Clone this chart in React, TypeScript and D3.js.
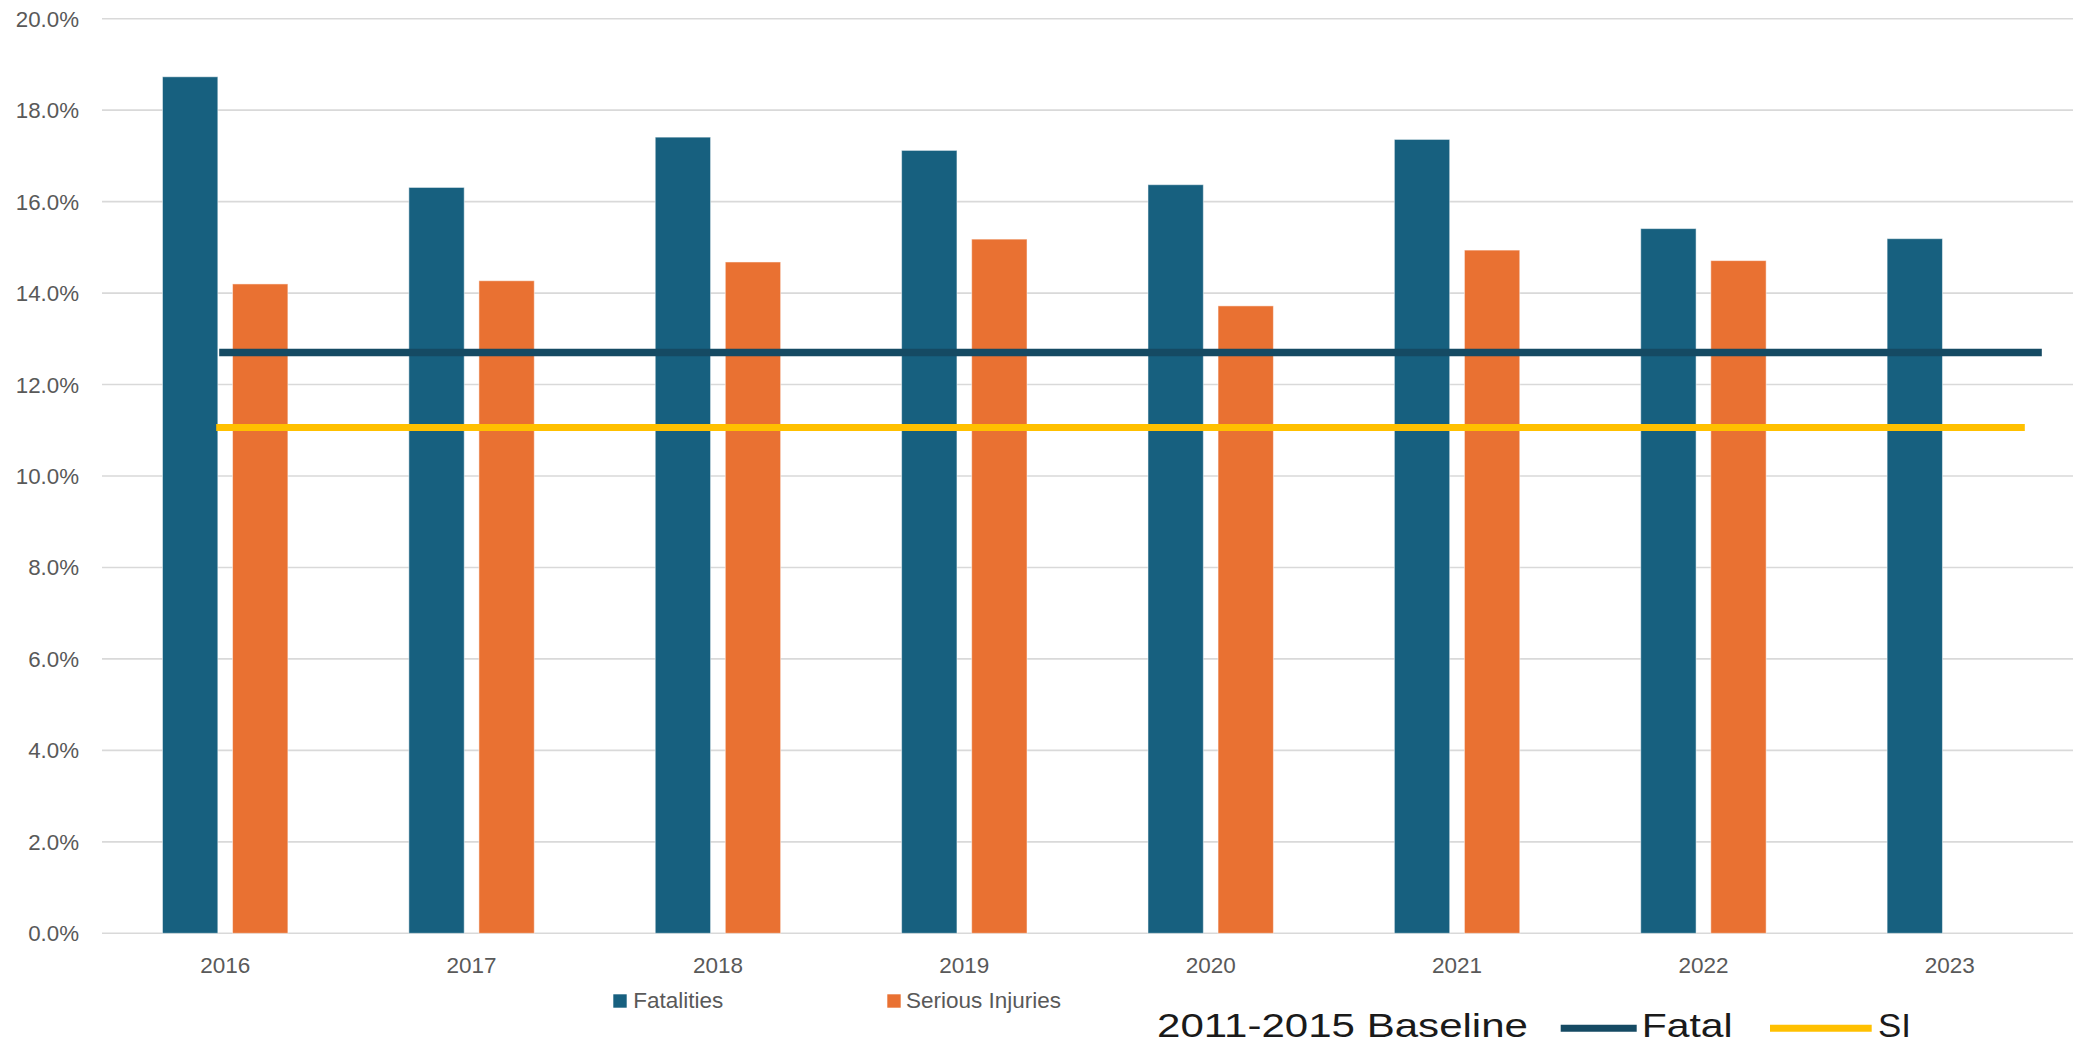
import React from "react";
import * as d3 from "d3";

const years = ["2016", "2017", "2018", "2019", "2020", "2021", "2022", "2023"];
const fatalities = [0.1873, 0.1631, 0.1741, 0.1712, 0.1637, 0.1736, 0.1541, 0.1519];
const seriousInjuries: (number | null)[] = [0.142, 0.1427, 0.1468, 0.1518, 0.1372, 0.1494, 0.1471, null];
const fatalBaseline = 0.127;
const siBaseline = 0.1106;
const yTicks = [0, 0.02, 0.04, 0.06, 0.08, 0.1, 0.12, 0.14, 0.16, 0.18, 0.2];
const seriesNames = ["Fatalities", "Serious Injuries"];

const W = 2085;
const H = 1044;
const C_FATAL = "#17607f";
const C_SI = "#e97132";
const C_FATAL_LINE = "#154a63";
const C_SI_LINE = "#ffc000";
const GRID = "#d9d9d9";
const TEXT = "#595959";
const FONT = "'Liberation Sans', Arial, sans-serif";

export default function App() {
  const x = d3.scaleBand<string>().domain(years).range([102, 2073]).paddingInner(0).paddingOuter(0);
  const bw = x.bandwidth();
  const groupW = bw * 0.509;
  const inner = d3.scaleBand<string>().domain(seriesNames).range([0, groupW]).paddingInner(0.21);
  const y = d3.scaleLinear().domain([0, 0.2]).range([933.3, 18.7]);
  const fmt = d3.format(".1%");
  const cx = (yr: string) => (x(yr) as number) + bw / 2;
  const gx = (yr: string) => cx(yr) - groupW / 2;

  return (
    <div style={{ position: "absolute", left: 0, top: 0, width: W, height: H, background: "#fff" }}>
      <svg width={W} height={H} style={{ display: "block" }} fontFamily={FONT}>
        {yTicks.map((t) => (
          <g key={t}>
            <line x1={102} x2={2073} y1={y(t)} y2={y(t)} stroke={GRID} strokeWidth={1.6} />
            <text x={79} y={y(t)} dy="0.36em" textAnchor="end" fontSize={22.3} fill={TEXT}>
              {fmt(t)}
            </text>
          </g>
        ))}
        {years.map((yr, i) => (
          <g key={yr}>
            <rect
              x={gx(yr) + (inner("Fatalities") as number)}
              y={y(fatalities[i])}
              width={inner.bandwidth()}
              height={y(0) - y(fatalities[i])}
              fill={C_FATAL}
              stroke="#ffffff"
              strokeOpacity={0.5}
              strokeWidth={1}
            />
            {seriousInjuries[i] != null && (
              <rect
                x={gx(yr) + (inner("Serious Injuries") as number)}
                y={y(seriousInjuries[i] as number)}
                width={inner.bandwidth()}
                height={y(0) - y(seriousInjuries[i] as number)}
                fill={C_SI}
                stroke="#ffffff"
                strokeOpacity={0.5}
                strokeWidth={1}
              />
            )}
            <text x={cx(yr)} y={965} dy="0.36em" textAnchor="middle" fontSize={22.5} fill={TEXT}>
              {yr}
            </text>
          </g>
        ))}
        <line
          x1={cx(years[0]) - 6}
          x2={cx(years[years.length - 1]) + 92}
          y1={y(fatalBaseline)}
          y2={y(fatalBaseline)}
          stroke={C_FATAL_LINE}
          strokeWidth={7.5}
        />
        <line
          x1={cx(years[0]) - 9}
          x2={cx(years[years.length - 1]) + 75}
          y1={y(siBaseline)}
          y2={y(siBaseline)}
          stroke={C_SI_LINE}
          strokeWidth={7}
        />
        {/* legend */}
        <rect x={613.3} y={994.3} width={13.4} height={13.4} fill={C_FATAL} />
        <text x={633.3} y={1008.3} fontSize={22.5} fill={TEXT}>Fatalities</text>
        <rect x={887.3} y={994.3} width={13.4} height={13.4} fill={C_SI} />
        <text x={906} y={1008.3} fontSize={22.5} fill={TEXT}>Serious Injuries</text>

        <text x={1157} y={1036.7} fontSize={32.7} fill="#1a1a1a" textLength={371} lengthAdjust="spacingAndGlyphs">
          2011-2015 Baseline
        </text>
        <line x1={1560.7} x2={1636.7} y1={1028.3} y2={1028.3} stroke={C_FATAL_LINE} strokeWidth={7} />
        <text x={1641.7} y={1036.7} fontSize={32.7} fill="#1a1a1a" textLength={91} lengthAdjust="spacingAndGlyphs">
          Fatal
        </text>
        <line x1={1770} x2={1871.7} y1={1028.3} y2={1028.3} stroke={C_SI_LINE} strokeWidth={7} />
        <text x={1878} y={1036.7} fontSize={32.7} fill="#1a1a1a" textLength={33} lengthAdjust="spacingAndGlyphs">
          SI
        </text>
      </svg>
    </div>
  );
}
